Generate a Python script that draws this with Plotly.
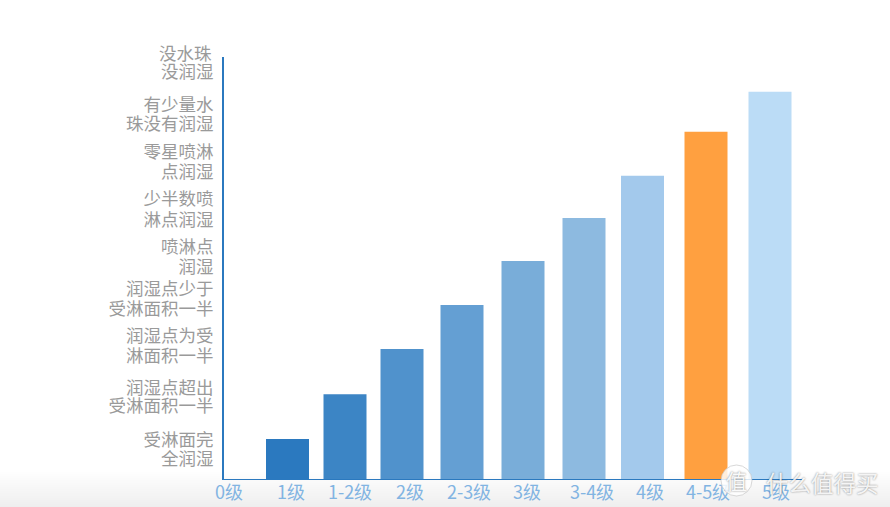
import plotly.graph_objects as go

grades = ["1级", "1-2级", "2级", "2-3级", "3级", "3-4级", "4级", "4-5级", "5级"]
wetting = [0.92, 1.95, 2.99, 4.0, 5.01, 6.0, 6.97, 7.98, 8.9]
bar_colors = ["#2b79bf", "#3c85c5", "#5092cc", "#649fd3", "#79add9", "#8dbae0", "#a3c9ec", "#ffa040", "#bbdcf6"]
bar_pos = [63.5, 121, 178, 238, 299, 360, 418.5, 482, 546]

x_tick_text = ["0级", "1级", "1-2级", "2级", "2-3级", "3级", "3-4级", "4级", "4-5级", "5级"]
x_tick_pos = [5, 67, 126, 186, 245, 303, 368, 426, 484, 552]

# each printed line of a y label is its own tick, so the line spacing can follow the picture
y_tick_text = [
    "全润湿", "受淋面完",
    "受淋面积一半", "润湿点超出",
    "淋面积一半", "润湿点为受",
    "受淋面积一半", "润湿点少于",
    "润湿", "喷淋点",
    "淋点润湿", "少半数喷",
    "点润湿", "零星喷淋",
    "珠没有润湿", "有少量水",
    "没润湿",
]
y_tick_pos = [0.46, 0.9, 1.68, 2.1, 2.83, 3.29, 3.9, 4.37, 4.87, 5.33,
              5.96, 6.44, 7.06, 7.52, 8.16, 8.6, 9.36]
top_label = "没水珠"

FONT = "Noto Sans CJK SC"
H = 422.0
W = 578.0


def py(v):
    return (479 - v) / H


def px(v):
    return (v - 224) / W


fig = go.Figure(go.Bar(x=bar_pos, y=wetting, width=43, marker=dict(color=bar_colors, line_width=0), hoverinfo="skip"))

# pale fade along the bottom of the picture
shapes = []
steps = 37
for i in range(steps):
    v = 255 - int(17 * (i + 1) / steps)
    shapes.append(dict(type="rect", xref="paper", yref="paper", layer="below", line_width=0,
                       x0=px(0), x1=px(890), y0=py(470 + i), y1=py(471 + i),
                       fillcolor=f"rgb({v},{v},{v})"))
# watermark disc
shapes.append(dict(type="circle", xref="paper", yref="paper", layer="above",
                   x0=px(721), x1=px(752), y0=py(496), y1=py(465),
                   fillcolor="rgba(255,255,255,0.82)", line=dict(color="rgba(190,190,190,0.6)", width=1)))

fig.update_layout(
    width=890, height=507, autosize=False, showlegend=False,
    margin=dict(l=224, r=88, t=57, b=28),
    paper_bgcolor="white", plot_bgcolor="rgba(0,0,0,0)",
    font=dict(family=FONT),
    shapes=shapes,
    xaxis=dict(range=[0, 578], tickmode="array", tickvals=x_tick_pos, ticktext=x_tick_text, automargin=False,
               showgrid=False, zeroline=False, showline=True, linecolor="#2b79bf", linewidth=1,
               ticks="", ticklabelstandoff=-3, tickangle=0,
               tickfont=dict(size=18, color="#82b4e2", family=FONT)),
    yaxis=dict(range=[0, 9.7], tickmode="array", tickvals=y_tick_pos, ticktext=y_tick_text, automargin=False,
               showgrid=False, zeroline=False, showline=True, linecolor="#2b79bf", linewidth=2,
               ticks="outside", ticklen=5, tickcolor="rgba(0,0,0,0)",
               tickfont=dict(size=17.5, color="#9a9a9a", family=FONT)),
    annotations=[
        dict(text=top_label, xref="paper", yref="paper", x=px(214), y=py(52), showarrow=False,
             xanchor="right", yanchor="middle", xshift=0,
             font=dict(size=17.5, color="#9a9a9a", family=FONT)),
        dict(text="什么值得买", xref="paper", yref="paper", x=px(822.5), y=py(482), showarrow=False,
             xanchor="center", yanchor="middle",
             font=dict(size=22.5, color="rgba(255,255,255,0.9)", family=FONT, shadow="0px 0px 2px rgba(0,0,0,0.55)")),
        dict(text="值", xref="paper", yref="paper", x=px(736), y=py(480), showarrow=False,
             xanchor="center", yanchor="middle",
             font=dict(size=21, color="rgba(255,255,255,0.95)", family=FONT, shadow="0px 0px 2px rgba(0,0,0,0.55)")),
    ],
)
fig.write_html("out.html", config=dict(displayModeBar=False), post_script="document.body.style.margin='0';")
